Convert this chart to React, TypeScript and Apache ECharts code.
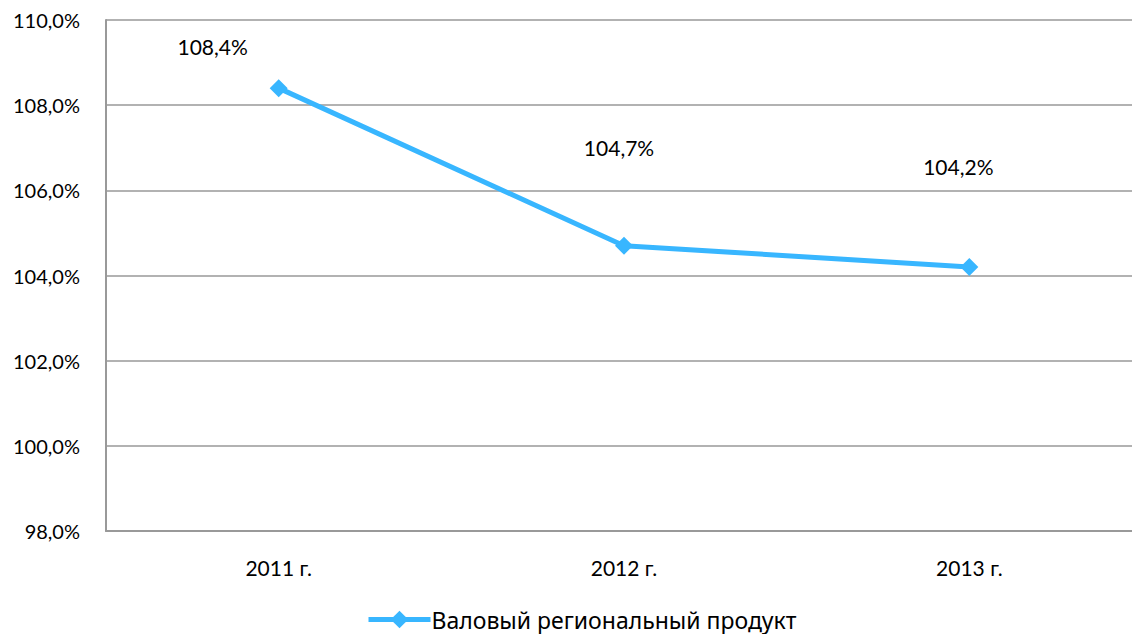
import React, { useEffect, useRef } from "react";
import * as echarts from "echarts";

const categories = ["2011 г.", "2012 г.", "2013 г."];
const values = [108.4, 104.7, 104.2];
const seriesName = "Валовый региональный продукт";
const labelOffsets = [[-66, -42], [-5, -98], [-11, -100]];

const fmt = (v: number) => v.toFixed(1).replace(".", ",") + "%";

export default function App() {
  const ref = useRef<HTMLDivElement>(null);
  useEffect(() => {
    const chart = echarts.init(ref.current!, null, { renderer: "svg" });
    chart.setOption({
      animation: false,
      backgroundColor: "#ffffff",
      grid: { left: 106, top: 20, width: 1036, height: 511 },
      legend: {
        top: 603,
        left: 361,
        itemWidth: 62,
        itemHeight: 22,
        itemGap: 0,
        textStyle: { fontFamily: "Noto Sans", fontSize: 23, color: "#000", padding: [0, 0, 0, -4] },
        lineStyle: { width: 5 },
        data: [seriesName],
      },
      xAxis: {
        type: "category",
        data: categories,
        axisLine: { lineStyle: { color: "#999", width: 2 } },
        axisTick: { show: false },
        axisLabel: { margin: 26, fontFamily: "Lato", fontSize: 21, color: "#000" },
      },
      yAxis: {
        type: "value",
        min: 98,
        max: 110,
        interval: 2,
        axisLine: { show: true, lineStyle: { color: "#999", width: 2 } },
        axisTick: { show: false },
        splitLine: { lineStyle: { color: "#999", width: 1.5 } },
        axisLabel: {
          margin: 26,
          fontFamily: "Lato",
          fontSize: 20,
          color: "#000",
          formatter: (v: number) => fmt(v),
        },
      },
      series: [
        {
          name: seriesName,
          type: "line",
          data: values.map((v, i) => ({
            value: v,
            label: { offset: labelOffsets[i] },
          })),
          symbol: "diamond",
          symbolSize: 18,
          lineStyle: { color: "#38B6FF", width: 5 },
          itemStyle: { color: "#38B6FF" },
          label: {
            show: true,
            position: "inside",
            fontFamily: "Lato",
            fontSize: 21,
            color: "#000",
            formatter: (p: any) => fmt(p.value),
          },
        },
      ],
    });
    return () => chart.dispose();
  }, []);
  return (
    <div style={{ position: "fixed", left: 0, top: 0, width: 1132, height: 634, overflow: "hidden" }}>
      <div ref={ref} style={{ width: 1150, height: 634 }} />
    </div>
  );
}
